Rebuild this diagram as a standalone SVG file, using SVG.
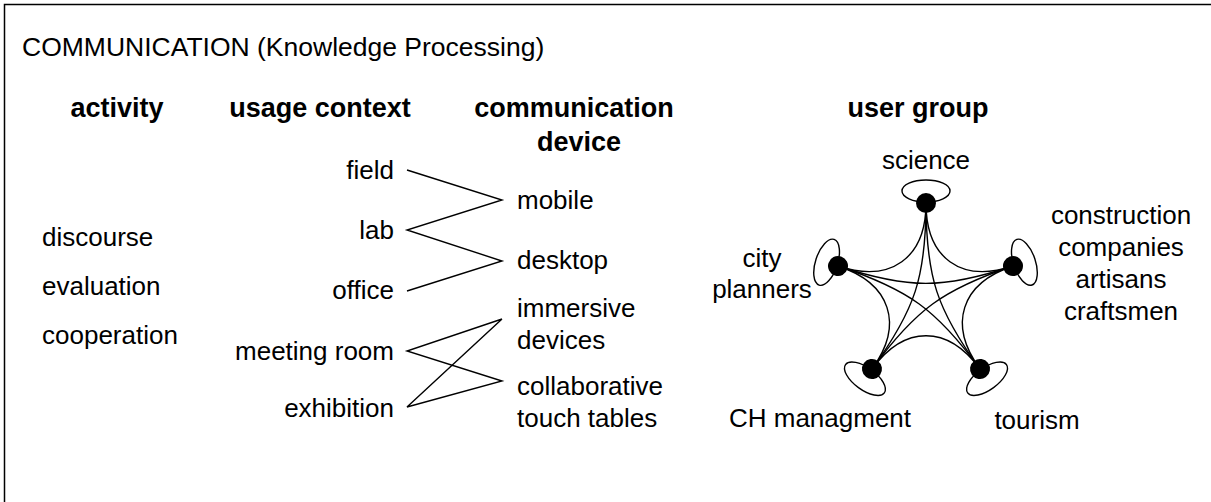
<svg xmlns="http://www.w3.org/2000/svg" width="1211" height="502" viewBox="0 0 1211 502">
  <style>
    text { font-family: "Liberation Sans", Arial, sans-serif; font-size: 26px; fill: #000; }
    .title { font-size: 26.5px; }
    .head { font-weight: bold; font-size: 27px; }
    .end { text-anchor: end; }
    .mid { text-anchor: middle; }
    .link { fill: none; stroke: #000; stroke-width: 1.4; }
    .edge { fill: none; stroke: #000; stroke-width: 1.4; }
    .loop { fill: none; stroke: #000; stroke-width: 1.4; }
    .dot { fill: #000; }
  </style>
  <defs>
    <ellipse id="selfloop" cx="0" cy="-12" rx="24" ry="11" class="loop"/>
  </defs>

  <rect x="0" y="0" width="1211" height="502" fill="#fff"/>
  <!-- frame, open to the right and bottom -->
  <rect x="4.5" y="4.5" width="1400" height="700" fill="none" stroke="#000" stroke-width="1.5"/>

  <text class="title" x="22" y="56">COMMUNICATION (Knowledge Processing)</text>

  <!-- column headings -->
  <g id="headings">
    <text class="head mid" x="117" y="117">activity</text>
    <text class="head mid" x="320" y="117">usage context</text>
    <text class="head mid" x="574" y="117">communication</text>
    <text class="head mid" x="579" y="151">device</text>
    <text class="head mid" x="918" y="117">user group</text>
  </g>

  <!-- activities -->
  <g id="activity">
    <text x="42" y="246">discourse</text>
    <text x="42" y="295">evaluation</text>
    <text x="42" y="344">cooperation</text>
  </g>

  <!-- usage contexts -->
  <g id="ctx-field"><text class="end" x="394" y="179">field</text></g>
  <g id="ctx-lab"><text class="end" x="394" y="239">lab</text></g>
  <g id="ctx-office"><text class="end" x="394" y="299">office</text></g>
  <g id="ctx-meeting"><text class="end" x="394" y="360">meeting room</text></g>
  <g id="ctx-exhibition"><text class="end" x="394" y="417">exhibition</text></g>

  <!-- devices -->
  <g id="dev-mobile"><text x="517" y="209">mobile</text></g>
  <g id="dev-desktop"><text x="517" y="269">desktop</text></g>
  <g id="dev-immersive"><text x="517" y="317">immersive</text><text x="517" y="349">devices</text></g>
  <g id="dev-collab"><text x="517" y="395">collaborative</text><text x="517" y="427">touch tables</text></g>

  <!-- context to device links -->
  <g id="connectors">
    <polyline class="link" points="407,170 502,200 407,230 502,261 407,291"/>
    <polyline class="link" points="502,319 407,351 502,381 407,407 502,319"/>
  </g>

  <!-- user group graph: every group linked with every other -->
  <g id="user-edges">
    <path class="edge" d="M926,203 C926,258.2 890.8,283.4 838,266"/>
    <path class="edge" d="M926,203 C926,258.2 960.8,283.4 1013,266"/>
    <path class="edge" d="M838,266 C890.8,283.4 904.4,324.6 872,369"/>
    <path class="edge" d="M1013,266 C960.8,283.4 947.6,324.6 980,369"/>
    <path class="edge" d="M872,369 C904.4,324.6 947.6,324.6 980,369"/>
    <path class="edge" d="M926,203 C926,276.6 915.2,309.8 872,369"/>
    <path class="edge" d="M926,203 C926,276.6 936.8,309.8 980,369"/>
    <path class="edge" d="M838,266 C908.4,289.2 943.4,289.2 1013,266"/>
    <path class="edge" d="M838,266 C908.4,289.2 936.8,309.8 980,369"/>
    <path class="edge" d="M1013,266 C943.4,289.2 915.2,309.8 872,369"/>
  </g>

  <g id="ug-science">
    <g transform="translate(926,203)"><use href="#selfloop"/><circle class="dot" r="10"/></g>
    <text class="mid" x="926" y="169">science</text>
  </g>
  <g id="ug-planners">
    <g transform="translate(838,266) rotate(-71.8)"><use href="#selfloop"/><circle class="dot" r="10"/></g>
    <text class="mid" x="762" y="267">city</text>
    <text class="mid" x="762" y="298">planners</text>
  </g>
  <g id="ug-construction">
    <g transform="translate(1013,266) rotate(71.6)"><use href="#selfloop"/><circle class="dot" r="10"/></g>
    <text class="mid" x="1121" y="224">construction</text>
    <text class="mid" x="1121" y="256">companies</text>
    <text class="mid" x="1121" y="288">artisans</text>
    <text class="mid" x="1121" y="320">craftsmen</text>
  </g>
  <g id="ug-ch">
    <g transform="translate(872,369) rotate(216.1)"><use href="#selfloop"/><circle class="dot" r="10"/></g>
    <text class="mid" x="820" y="427">CH managment</text>
  </g>
  <g id="ug-tourism">
    <g transform="translate(980,369) rotate(143.9)"><use href="#selfloop"/><circle class="dot" r="10"/></g>
    <text class="mid" x="1037" y="429">tourism</text>
  </g>
</svg>
